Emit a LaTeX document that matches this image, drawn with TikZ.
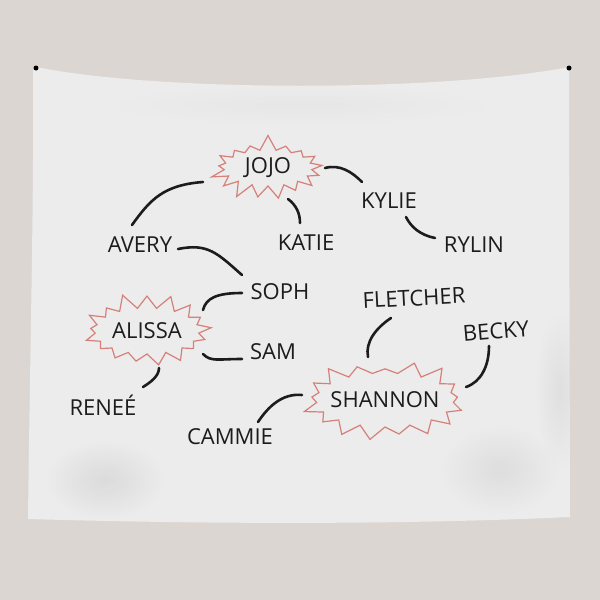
\documentclass[tikz,border=0pt]{standalone}
\usepackage{fontspec}
\setmainfont{Open Sans}
\usetikzlibrary{shapes.symbols,fadings}
\definecolor{wall}{RGB}{220,214,211}
\definecolor{cloth}{RGB}{236,236,236}
\definecolor{burst}{RGB}{214,128,122}
\definecolor{ink}{RGB}{28,28,28}
\tikzfading[name=softspot,inner color=transparent!0,outer color=transparent!100]
\begin{document}
\begin{tikzpicture}[x=1pt,y=-1pt,
  person/.style={text=ink,font=\fontsize{22}{26}\selectfont,inner sep=0pt},
  boom/.style={starburst,draw=burst,line width=1.2pt,text=ink,
    font=\fontsize{22}{26}\selectfont,starburst points=17,
    starburst point height=16pt,inner sep=0pt},
  conn/.style={draw=ink,line width=2.6pt,line cap=round},
  softshadow/.style={fill=black,path fading=softspot}]
\useasboundingbox (0,0) rectangle (600,600);
\fill[wall] (0,0) rectangle (600,600);
% tapestry
\fill[cloth] (36,67) .. controls (160,92) and (440,92) .. (569,67)
  -- (570,517) .. controls (400,525) and (200,524) .. (28,519)
  .. controls (30,350) and (34,200) .. (33,70) -- cycle;
\begin{scope}
\clip (36,67) .. controls (160,92) and (440,92) .. (569,67)
  -- (570,517) .. controls (400,525) and (200,524) .. (28,519)
  .. controls (30,350) and (34,200) .. (33,70) -- cycle;
\fill[softshadow,opacity=0.07] (105,480) ellipse (60 and 40);
\fill[softshadow,opacity=0.06] (500,470) ellipse (60 and 45);
\fill[softshadow,opacity=0.05] (560,390) ellipse (25 and 80);
\fill[softshadow,opacity=0.025] (300,105) ellipse (200 and 20);
\end{scope}
\fill[black] (36,68) circle (2.5);
\fill[black] (569,68) circle (2.5);
% bursts
\node[boom,minimum width=120pt,minimum height=68pt,random starburst=7] (jojo) at (268,168) {JOJO};
\node[boom,minimum width=136pt,minimum height=78pt,random starburst=11] (alissa) at (147,331) {ALISSA};
\node[boom,inner xsep=-6pt,minimum height=86pt,random starburst=23] (shannon) at (385,400) {SHANNON};
% names
\node[person] (kylie) at (389,201) {KYLIE};
\node[person] (rylin) at (474,245) {RYLIN};
\node[person] (katie) at (306,243) {KATIE};
\node[person] (avery) at (140,245) {AVERY};
\node[person] (soph) at (280,292) {SOPH};
\node[person] (sam) at (273,352) {SAM};
\node[person] (renee) at (103,405) {RENEÉ};
\node[person,rotate=3] (fletcher) at (414,298) {FLETCHER};
\node[person,rotate=5] (becky) at (496,331) {BECKY};
\node[person] (cammie) at (230,437) {CAMMIE};
% connectors
\draw[conn] ([shift={(-65,14)}]jojo.center) .. controls +(-40,3) and +(18,-25) .. ([shift={(-8,-20)}]avery.center);
\draw[conn] ([shift={(20,31)}]jojo.center) .. controls +(8,6) and +(0,-10) .. ([shift={(-6,-20)}]katie.center);
\draw[conn] ([shift={(38,4)}]avery.center) .. controls +(30,-6) and +(-25,-22) .. ([shift={(-38,-17)}]soph.center);
\draw[conn] ([shift={(-38,1)}]soph.center) .. controls +(-25,0) and +(3,-12) .. ([shift={(56,-21)}]alissa.center);
\draw[conn] ([shift={(56,23)}]alissa.center) .. controls +(8,8) and +(-25,0) .. ([shift={(-31,7)}]sam.center);
\draw[conn] ([shift={(12,37)}]alissa.center) .. controls +(0,8) and +(8,-5) .. ([shift={(40,-18)}]renee.center);
\draw[conn] ([shift={(57,0)}]jojo.center) .. controls +(15,-4) and +(-10,-10) .. ([shift={(-27,-19)}]kylie.center);
\draw[conn] ([shift={(17,16)}]kylie.center) .. controls +(5,10) and +(-15,-3) .. ([shift={(-39,-7)}]rylin.center);
\draw[conn] ([shift={(-23,20)}]fletcher.center) .. controls +(-15,10) and +(-3,-15) .. ([shift={(-17,-43)}]shannon.center);
\draw[conn] ([shift={(-7,15)}]becky.center) .. controls +(0,20) and +(15,-5) .. ([shift={(81,-13)}]shannon.center);
\draw[conn] ([shift={(-83,-5)}]shannon.center) .. controls +(-20,-2) and +(10,-15) .. ([shift={(28,-15)}]cammie.center);
\end{tikzpicture}
\end{document}
